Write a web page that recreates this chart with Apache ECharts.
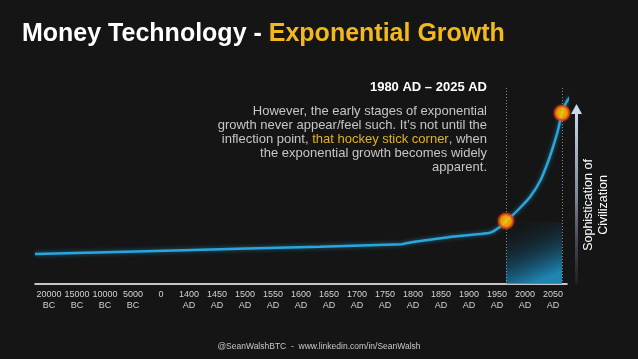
<!DOCTYPE html>
<html><head><meta charset="utf-8">
<script src="https://cdn.jsdelivr.net/npm/echarts@6/dist/echarts.min.js"></script>
<style>html,body{margin:0;padding:0;background:#151515;}#c{width:638px;height:359px;}</style>
</head><body><div id="c"></div>
<script>
// Category tick labels
var categories = ['20000\nBC','15000\nBC','10000\nBC','5000\nBC','0','1400\nAD','1450\nAD','1500\nAD','1550\nAD','1600\nAD','1650\nAD','1700\nAD','1750\nAD','1800\nAD','1850\nAD','1900\nAD','1950\nAD','2000\nAD','2050\nAD'];
// Curve: position along the category axis (index units) and "sophistication" level
var curveX = [-0.5, 4.5, 9.68, 12.6, 13.0, 14.32, 15.75, 16.1, 16.32, 16.55, 16.82, 17.18, 17.54, 17.82, 18.0, 18.18, 18.32, 18.46, 18.61];
var curveY = [15.0, 16.8, 18.65, 19.9, 21.0, 23.5, 25.65, 28.5, 31.5, 34.3, 38.0, 43.5, 51.5, 61.0, 68.5, 77.0, 85.5, 90.5, 93.5];
// Highlighted points (1980 AD and 2025 AD)
var markerX = [16.32, 18.32];
var markerY = [31.5, 85.5];

var chart = echarts.init(document.getElementById('c'), null, {renderer:'canvas'});
var FONT = 'Liberation Sans, Arial, sans-serif';
var option = {
  backgroundColor: '#151515',
  animation: false,
  title: {
    left: 22, top: 22, padding: 0,
    text: '{w|Money Technology - }{y|Exponential Growth}',
    textStyle: { rich: {
      w: {color:'#ffffff', fontSize:25, fontWeight:'bold', fontFamily:FONT},
      y: {color:'#f3b81d', fontSize:25, fontWeight:'bold', fontFamily:FONT}
    }}
  },
  grid: { left: 35, right: 71, top: 84, bottom: 75 },
  xAxis: [{
    type: 'category', data: categories, boundaryGap: true,
    axisLine: {lineStyle:{color:'#ffffff', width:1.5}},
    axisTick: {show:false},
    axisLabel: {color:'#d2d2d2', fontSize:9, lineHeight:11, fontFamily:FONT, margin:5, interval:0},
    splitLine: {show:false}
  },{
    type: 'value', min: -0.5, max: 18.5, show: false
  }],
  yAxis: { type: 'value', min: 0, max: 100, show: false, splitLine:{show:false} },
  series: [{
    type: 'line', xAxisIndex: 1,
    data: curveX.map(function(x,i){return [x, curveY[i]];}),
    smooth: 0.15,
    symbol: 'none', clip: false,
    lineStyle: {color:'#2aa6dc', width:2.5, shadowColor:'rgba(42,166,220,0.6)', shadowBlur:4},
    markLine: {
      silent: true, symbol: 'none', label:{show:false},
      lineStyle: {color:'rgba(220,220,220,0.55)', type:[1,2], width:1},
      data: markerX.map(function(x){return [{coord:[x,0]},{coord:[x,98.5]}];})
    },
    markArea: {
      silent: true,
      itemStyle: {
        color: new echarts.graphic.LinearGradient(0,0,0.45,1,[
          {offset:0, color:'rgba(21,21,21,0)'},
          {offset:0.5, color:'rgba(20,90,125,0.35)'},
          {offset:1, color:'rgba(30,145,195,0.9)'}
        ])
      },
      data: [[{coord:[markerX[0], 31]}, {coord:[markerX[1], -2.5]}]]
    },
    z: 3
  },{
    type: 'scatter', xAxisIndex: 1,
    data: markerX.map(function(x,i){return [x, markerY[i]];}),
    symbolSize: 14,
    itemStyle: {
      color: new echarts.graphic.RadialGradient(0.5,0.5,0.5,[
        {offset:0, color:'#ffd400'},{offset:0.7, color:'#ffbc00'},{offset:1, color:'#f59a0a'}
      ]),
      borderColor:'#e8401a', borderWidth:2,
      shadowColor:'rgba(255,90,20,0.5)', shadowBlur:3
    },
    z: 5
  }],
  graphic: [
    {type:'text', right: 638-487, top: 81, style:{
      text:'1980 AD \u2013 2025 AD', fill:'#ffffff', font:'bold 13px '+FONT, textAlign:'right'
    }},
    {type:'text', right: 638-487, top: 104, style:{
      text:'{g|However, the early stages of exponential}\n{g|growth never appear/feel such. It\u2019s not until the}\n{g|inflection point, }{y|that hockey stick corner}{g|, when}\n{g|the exponential growth becomes widely}\n{g|apparent.}',
      textAlign:'right', lineHeight:14,
      rich:{
        g:{fill:'#c6c6c6', fontSize:13, fontFamily:FONT, lineHeight:14},
        y:{fill:'#e2b224', fontSize:13, fontFamily:FONT, lineHeight:14}
      }
    }},
    {type:'rect', shape:{x:575, y:112, width:3, height:172}, style:{
      fill: new echarts.graphic.LinearGradient(0,0,0,1,[
        {offset:0, color:'#c9d8ea'},{offset:0.5, color:'#7e8797'},{offset:1, color:'rgba(40,40,45,0.6)'}
      ])
    }},
    {type:'polygon', shape:{points:[[576.5,104],[571,114],[582,114]]}, style:{fill:'#c9d8ea'}},
    {type:'text', x: 596, y: 205, rotation: Math.PI/2, style:{
      text:'Sophistication of\nCivilization', fill:'#ffffff', font:'12.5px '+FONT,
      textAlign:'center', textVerticalAlign:'middle', lineHeight:15
    }},
    {type:'text', left:'center', top: 342, style:{
      text:'@SeanWalshBTC  -  www.linkedin.com/in/SeanWalsh', fill:'#c8c8c8', font:'8.5px '+FONT
    }}
  ]
};
chart.setOption(option);
</script></body></html>
